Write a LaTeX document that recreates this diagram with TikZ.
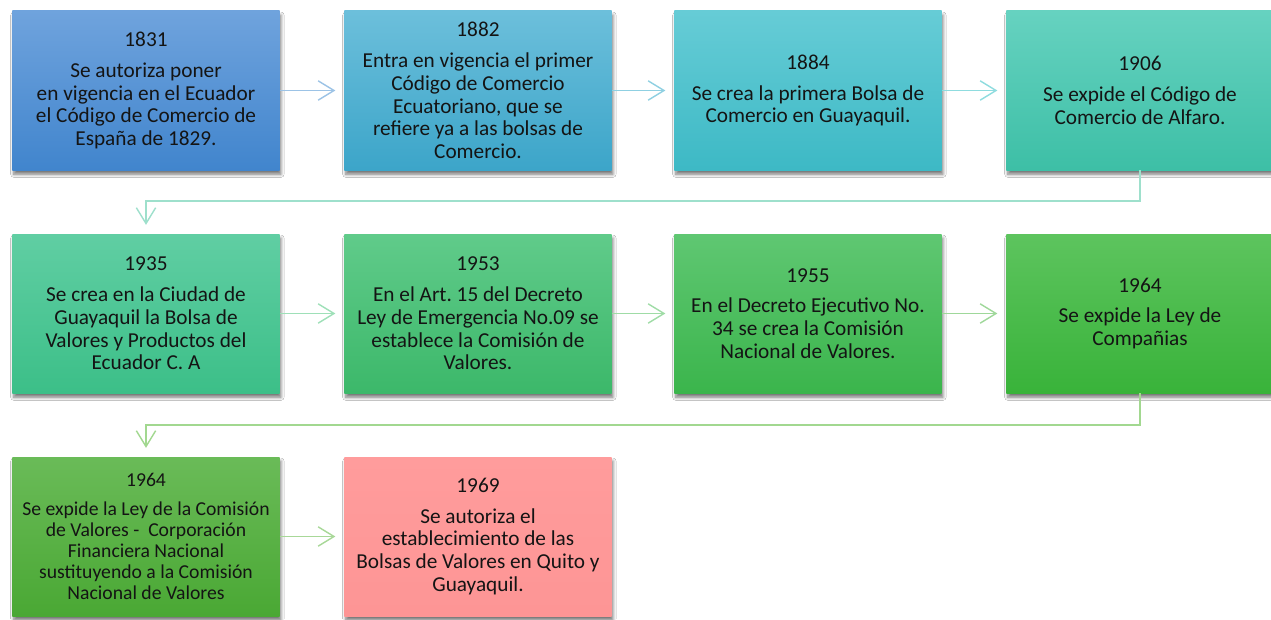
\documentclass[tikz,border=0pt]{standalone}
\usepackage{fontspec}
\setmainfont{Carlito}
\usetikzlibrary{arrows.meta,shadows.blur,calc}
\frenchspacing
\definecolor{txt}{HTML}{141414}
\definecolor{t1}{HTML}{6FA3DD}\definecolor{u1}{HTML}{4185CD}
\definecolor{t2}{HTML}{6CBFDB}\definecolor{u2}{HTML}{3CA5C9}
\definecolor{t3}{HTML}{66CCD6}\definecolor{u3}{HTML}{3DB9C5}
\definecolor{t4}{HTML}{66D2C0}\definecolor{u4}{HTML}{3DBFA6}
\definecolor{t5}{HTML}{60CEA3}\definecolor{u5}{HTML}{3CBF88}
\definecolor{t6}{HTML}{60CB8A}\definecolor{u6}{HTML}{3CB86A}
\definecolor{t7}{HTML}{5FC772}\definecolor{u7}{HTML}{3BB54C}
\definecolor{t8}{HTML}{5DC45E}\definecolor{u8}{HTML}{39B33A}
\definecolor{t9}{HTML}{6ABB58}\definecolor{u9}{HTML}{4AA834}
\definecolor{t10}{HTML}{FF9C9C}\definecolor{u10}{HTML}{FD9595}
\definecolor{a1}{HTML}{9CC3E6}
\definecolor{a2}{HTML}{8FD0E2}
\definecolor{a3}{HTML}{8FDCDF}
\definecolor{a4}{HTML}{9EE0CC}
\definecolor{a5}{HTML}{9EE0B8}
\definecolor{a6}{HTML}{9FDCA6}
\definecolor{a7}{HTML}{9FD89A}
\definecolor{a8}{HTML}{A2D890}
\definecolor{a9}{HTML}{A8D898}
\tikzset{
  evbox/.style n args={2}{rectangle, minimum width=152pt, minimum height=90.5pt,
    inner sep=1pt, align=center, text=txt, font=\fontsize{12.1}{13}\selectfont,
    top color=#1, bottom color=#2, draw=none,
    blur shadow={shadow xshift=0.8pt, shadow yshift=-2.4pt, shadow blur steps=6, shadow blur radius=1.8pt, shadow opacity=55}},
  conn/.style={draw=#1, line width=0.8pt, -{Straight Barb[length=9pt,width=11pt,line width=0.8pt]}, shorten >=5pt},
}
\newcommand{\yr}[1]{#1\\[4.5pt]}
\begin{document}
\begin{tikzpicture}[x=0.02cm,y=-0.02cm]
\useasboundingbox (0,0) rectangle (1271,619);
\fill[white] (0,0) rectangle (1271,619);
% row 1
\node[evbox={t1}{u1}] (b1) at (146,90.5) {\yr{1831}Se autoriza poner\\en vigencia en el Ecuador\\el Código de Comercio de\\España de 1829.};
\node[evbox={t2}{u2}] (b2) at (478,90.5) {\yr{1882}Entra en vigencia el primer\\Código de Comercio\\Ecuatoriano, que se\\refiere ya a las bolsas de\\Comercio.};
\node[evbox={t3}{u3}] (b3) at (808,90.5) {\yr{1884}Se crea la primera Bolsa de\\Comercio en Guayaquil.};
\node[evbox={t4}{u4}] (b4) at (1140,90.5) {\yr{1906}Se expide el Código de\\Comercio de Alfaro.};
% row 2
\node[evbox={t5}{u5}] (b5) at (146,313.5) {\yr{1935}Se crea en la Ciudad de\\Guayaquil la Bolsa de\\Valores y Productos del\\Ecuador C. A};
\node[evbox={t6}{u6}] (b6) at (478,313.5) {\yr{1953}En el Art. 15 del Decreto\\Ley de Emergencia No.09 se\\establece la Comisión de\\Valores.};
\node[evbox={t7}{u7}] (b7) at (808,313.5) {\yr{1955}En el Decreto Ejecutivo No.\\34 se crea la Comisión\\Nacional de Valores.};
\node[evbox={t8}{u8}] (b8) at (1140,313.5) {\yr{1964}Se expide la Ley de\\Compañias};
% row 3
\node[evbox={t9}{u9}, font=\fontsize{11.2}{11.9}\selectfont] (b9) at (146,536.5) {\yr{1964}Se expide la Ley de la Comisión\\de Valores -\ \ Corporación\\Financiera Nacional\\sustituyendo a la Comisión\\Nacional de Valores};
\node[evbox={t10}{u10}] (b10) at (478,536.5) {\yr{1969}Se autoriza el\\establecimiento de las\\Bolsas de Valores en Quito y\\Guayaquil.};
% connectors
\draw[conn=a1] (b1) -- (b2);
\draw[conn=a2] (b2) -- (b3);
\draw[conn=a3] (b3) -- (b4);
\coordinate (c4) at (1140,201);
\draw[conn=a4] (b4.south) -- (c4) -| (b5.north);
\draw[conn=a5] (b5) -- (b6);
\draw[conn=a6] (b6) -- (b7);
\draw[conn=a7] (b7) -- (b8);
\coordinate (c8) at (1140,425);
\draw[conn=a8] (b8.south) -- (c8) -| (b9.north);
\draw[conn=a9] (b9) -- (b10);
\end{tikzpicture}
\end{document}
